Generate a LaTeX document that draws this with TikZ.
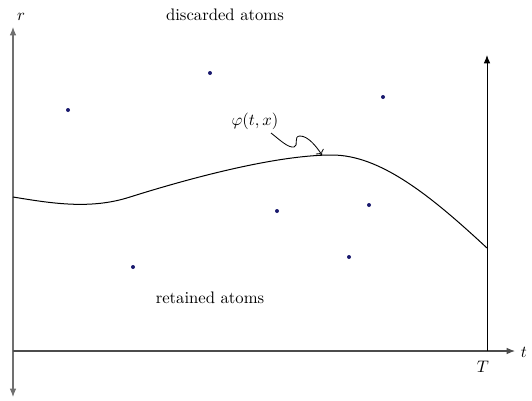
\documentclass[tikz,border=0pt]{standalone}
\usepackage{amsmath,amssymb}
\usetikzlibrary{arrows.meta,positioning}
\definecolor{axisgray}{HTML}{707070}
\definecolor{atom}{HTML}{1A1A6E}

\tikzset{
  atomdot/.style={circle, fill=atom, inner sep=0pt, minimum size=2.4pt},
  axisline/.style={axisgray, line width=0.7pt, -{Latex[length=5pt,width=4pt]}},
}

\begin{document}
\begin{tikzpicture}[x=0.6pt, y=-0.6pt]
  \useasboundingbox (0,0) rectangle (532,400);

  % Axes
  \coordinate (rlow) at (13,397);
  \coordinate (rtop) at (13,27);
  \coordinate (orig) at (13,351);
  \coordinate (tend) at (515,351);
  \draw[axisline] (orig) -- (rlow);
  \draw[axisline] (orig) -- (rtop);
  \draw[axisline, black!70] (orig) -- (tend);
  \node (rlab) at (21,17) {$r$};
  \node[right] (tlab) at (515,352) {$t$};

  % Final time
  \coordinate (Tbase) at (487,351);
  \coordinate (Ttop) at (487,55);
  \draw[line width=0.6pt, -{Latex[length=5pt,width=4pt]}] (Tbase) -- (Ttop);
  \node (Tlab) at (483,367) {$T$};

  % Boundary curve
  \draw[line width=0.6pt] (13,197) .. controls (50,203) and (90,210) .. (130,197)
    .. controls (200,175) and (280,155) .. (332,155)
    .. controls (380,155) and (430,195) .. (487,248);

  % Curve label
  \node (phi) at (255,121) {$\varphi(t,x)$};
  \coordinate (phitip) at (322,155);
  \draw[line width=0.5pt, -{To}] (271,133) .. controls (280,140) and (288,148) .. (294,147)
    .. controls (299,146) and (293,136) .. (300,136)
    .. controls (308,136) and (316,146) .. (phitip);

  % Regions
  \node (disc) at (225,15) {discarded atoms};
  \node (ret) at (210,298) {retained atoms};

  % Atoms
  \node[atomdot] (a1) at (68,110) {};
  \node[atomdot] (a2) at (210,73) {};
  \node[atomdot] (a3) at (383,97) {};
  \node[atomdot] (a4) at (277,211) {};
  \node[atomdot] (a5) at (369,205) {};
  \node[atomdot] (a6) at (133,267) {};
  \node[atomdot] (a7) at (349,257) {};
\end{tikzpicture}
\end{document}
